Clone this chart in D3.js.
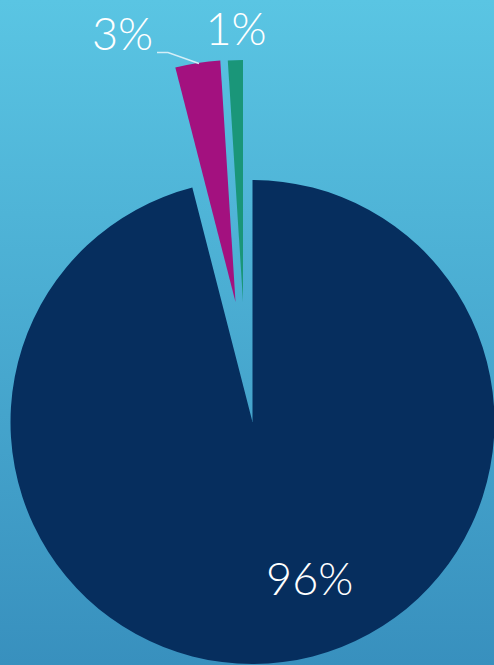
<!DOCTYPE html>
<html>
<head>
<meta charset="utf-8">
<script src="https://cdn.jsdelivr.net/npm/d3@7"></script>
<style>
  html, body { margin: 0; padding: 0; overflow: hidden; }
  svg { display: block; }
</style>
</head>
<body>
<svg id="chart" width="494" height="665"></svg>
<script>
const categories = ["A", "B", "C"];
const values = [96, 3, 1];
const labels = ["96%", "3%", "1%"];
const colors = ["#062e5e", "#a3117f", "#1a9679"];

const W = 494, H = 665;
const svg = d3.select("#chart");

const defs = svg.append("defs");
const grad = defs.append("linearGradient").attr("id", "bg")
  .attr("x1", 0).attr("y1", 0).attr("x2", 0).attr("y2", 1);
grad.append("stop").attr("offset", "0%").attr("stop-color", "#5ac5e3");
grad.append("stop").attr("offset", "100%").attr("stop-color", "#3890be");
svg.append("rect").attr("width", W).attr("height", H).attr("fill", "url(#bg)");

const cx = 252.5, cy = 422, r = 242;
// explosion offsets per slice (px)
const offsets = [[0, 0], [-17, -120], [-9.5, -120]];

const pie = d3.pie().sort(null).value(d => d)(values);
const arc = d3.arc().innerRadius(0).outerRadius(r);

const g = svg.append("g");
g.selectAll("path").data(pie).join("path")
  .attr("transform", (d, i) => `translate(${cx + offsets[i][0]},${cy + offsets[i][1]})`)
  .attr("d", arc)
  .attr("fill", (d, i) => colors[i]);

// leader line for 3%
svg.append("polyline")
  .attr("points", "157,52.5 168,52.5 199,63.5")
  .attr("fill", "none")
  .attr("stroke", "#d4eef7")
  .attr("stroke-width", 1.5);

const labelPos = [[309.7, 595], [122.5, 50], [236, 45]];
svg.selectAll("text.lbl").data(labels).join("text")
  .attr("class", "lbl")
  .attr("x", (d, i) => labelPos[i][0])
  .attr("y", (d, i) => labelPos[i][1])
  .attr("text-anchor", "middle")
  .attr("fill", "#ffffff")
  .attr("font-family", "Lato, 'Open Sans', sans-serif")
  .attr("font-weight", 300)
  .attr("font-size", 45)
  .text(d => d);
</script>
</body>
</html>
